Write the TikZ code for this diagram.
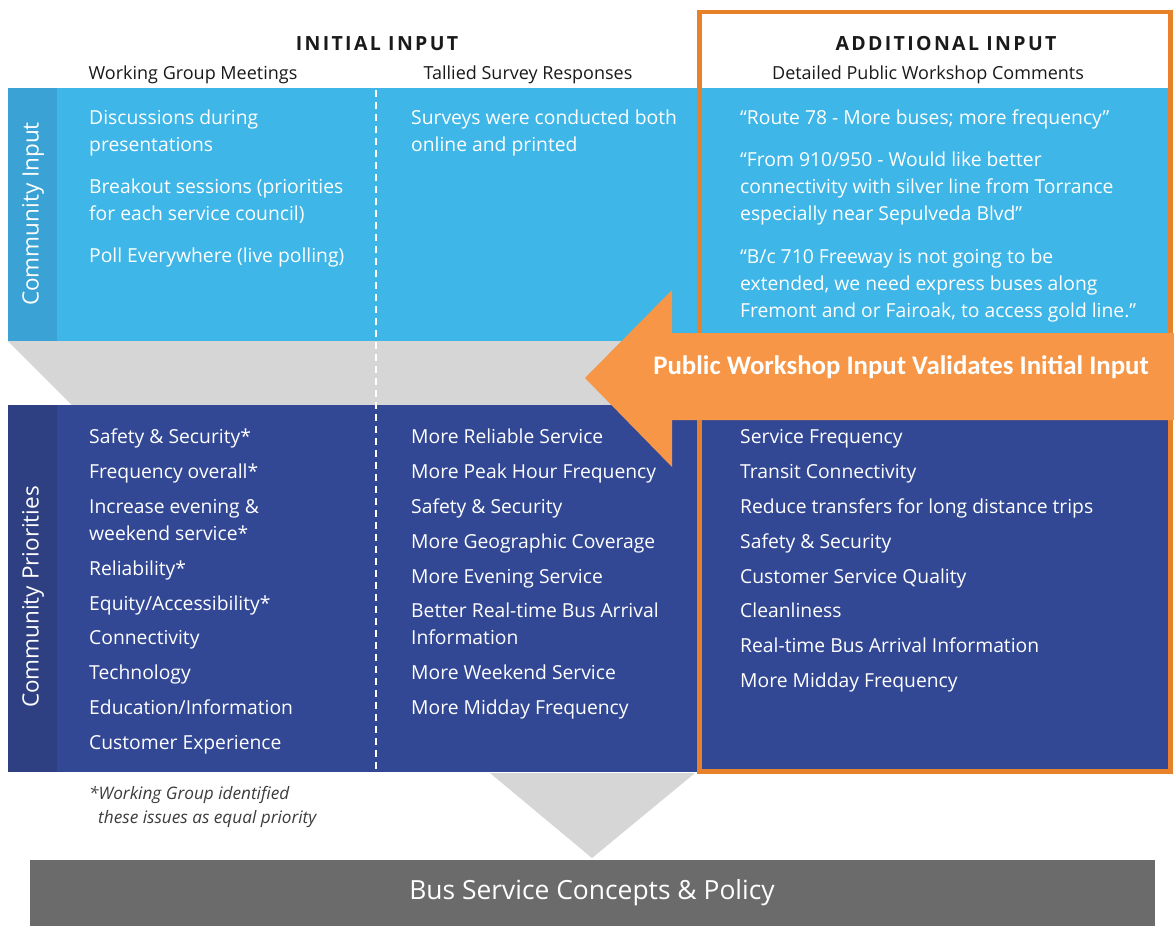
\documentclass[tikz,border=0pt]{standalone}
\usepackage{fontspec}
\setmainfont{Open Sans}
\newfontfamily\calib{Carlito}
\definecolor{lblue}{HTML}{3EB6E7}
\definecolor{lbluetab}{HTML}{3AA2D4}
\definecolor{dblue}{HTML}{334895}
\definecolor{dbluetab}{HTML}{2E3F82}
\definecolor{lgray}{HTML}{D6D6D6}
\definecolor{dgray}{HTML}{6B6B6B}
\definecolor{oborder}{HTML}{E8822A}
\definecolor{oarrow}{HTML}{F79646}
\definecolor{ink}{HTML}{1A1A1A}
\begin{document}
\begin{tikzpicture}[x=1pt,y=-1pt,
  wt/.style={anchor=west,inner sep=0pt,text=white,font=\fontsize{19.3}{22}\selectfont,text height=14pt,text depth=4pt,yshift=-1.8pt},
  hd/.style={inner sep=0pt,text=ink,font=\fontsize{18}{20}\selectfont},
  ttl/.style={inner sep=0pt,text=ink,font=\bfseries\fontsize{19.5}{22}\selectfont},
  side/.style={inner sep=0pt,text=white,rotate=90,font=\fontsize{22.5}{25}\selectfont},
  foot/.style={anchor=west,inner sep=0pt,text=ink!85,font=\itshape\fontsize{17.2}{19}\selectfont}]
\fill[white] (0,0) rectangle (1174,926);
\useasboundingbox (0,0) rectangle (1174,926);
% bands
\fill[lblue] (8,88) rectangle (1172,341);
\fill[lbluetab] (8,88) rectangle (57,341);
\fill[lgray] (8,341) -- (1172,341) -- (1172,405) -- (72,405) -- cycle;
\fill[dblue] (8,405) rectangle (1172,772);
\fill[dbluetab] (8,405) rectangle (57,772);
\draw[white,line width=1.3pt,dash pattern=on 7pt off 5pt] (376,90) -- (376,772);
% funnel and bottom bar
\fill[lgray] (490,773) -- (695,773) -- (592,858) -- cycle;
\fill[dgray] (30,860) rectangle (1155,926);
\node[inner sep=0pt,text=white,font=\fontsize{26.4}{29}\selectfont] (bar) at (592,893) {Bus Service Concepts \& Policy};
% orange frame
\draw[oborder,line width=4.5pt] (699.5,12) rectangle (1170.5,771.5);
% headers
\node[ttl] (ii) at (377,44) {\addfontfeature{LetterSpace=12}INITIAL INPUT};
\node[ttl] (ai) at (946,44) {\addfontfeature{LetterSpace=12}ADDITIONAL INPUT};
\node[hd] (h1) at (193,74.5) {Working Group Meetings};
\node[hd] (h2) at (528,74.5) {Tallied Survey Responses};
\node[hd] (h3) at (928,74.5) {Detailed Public Workshop Comments};
% side labels
\node[side] (s1) at (33,214) {Community Input};
\node[side] (s2) at (33,597) {Community Priorities};
% community input
\node[wt] (a1) at (89,118) {Discussions during};
\node[wt] (a2) at (89,145) {presentations};
\node[wt] (a3) at (89,187) {Breakout sessions (priorities};
\node[wt] (a4) at (89,214) {for each service council)};
\node[wt] (a5) at (89,256) {Poll Everywhere (live polling)};
\node[wt] (b1) at (411,118) {Surveys were conducted both};
\node[wt] (b2) at (411,145) {online and printed};
\node[wt] (c1) at (740,118) {“Route 78 - More buses; more frequency”};
\node[wt] (c2) at (740,160) {“From 910/950 - Would like better};
\node[wt] (c3) at (740,187) {connectivity with silver line from Torrance};
\node[wt] (c4) at (740,214) {especially near Sepulveda Blvd"};
\node[wt] (c5) at (740,257) {“B/c 710 Freeway is not going to be};
\node[wt] (c6) at (740,284) {extended, we need express buses along};
\node[wt] (c7) at (740,311) {Fremont and or Fairoak, to access gold line."};
% community priorities
\node[wt] (d1) at (89,437) {Safety \& Security*};
\node[wt] (d2) at (89,472) {Frequency overall*};
\node[wt] (d3) at (89,507) {Increase evening \&};
\node[wt] (d4) at (89,534) {weekend service*};
\node[wt] (d5) at (89,569) {Reliability*};
\node[wt] (d6) at (89,604) {Equity/Accessibility*};
\node[wt] (d7) at (89,638) {Connectivity};
\node[wt] (d8) at (89,673) {Technology};
\node[wt] (d9) at (89,708) {Education/Information};
\node[wt] (d10) at (89,743) {Customer Experience};
\node[wt] (e1) at (411,437) {More Reliable Service};
\node[wt] (e2) at (411,472) {More Peak Hour Frequency};
\node[wt] (e3) at (411,507) {Safety \& Security};
\node[wt] (e4) at (411,542) {More Geographic Coverage};
\node[wt] (e5) at (411,577) {More Evening Service};
\node[wt] (e6) at (411,611) {Better Real-time Bus Arrival};
\node[wt] (e7) at (411,638) {Information};
\node[wt] (e8) at (411,673) {More Weekend Service};
\node[wt] (e9) at (411,708) {More Midday Frequency};
\node[wt] (f1) at (740,437) {Service Frequency};
\node[wt] (f2) at (740,472) {Transit Connectivity};
\node[wt] (f3) at (740,507) {Reduce transfers for long distance trips};
\node[wt] (f4) at (740,542) {Safety \& Security};
\node[wt] (f5) at (740,577) {Customer Service Quality};
\node[wt] (f6) at (740,611) {Cleanliness};
\node[wt] (f7) at (740,646) {Real-time Bus Arrival Information};
\node[wt] (f8) at (740,681) {More Midday Frequency};
% footnote
\node[foot] (n1) at (89,795) {*Working Group identified};
\node[foot] (n2) at (98,819) {these issues as equal priority};
% arrow
\fill[oarrow] (1174,333) -- (672,333) -- (672,290) -- (585,378) -- (672,467) -- (672,420) -- (1174,420) -- cycle;
\node[inner sep=0pt,text=white,font=\calib\bfseries\fontsize{26.8}{29}\selectfont] (arr) at (901,367) {Public Workshop Input Validates Initial Input};
\end{tikzpicture}
\end{document}
